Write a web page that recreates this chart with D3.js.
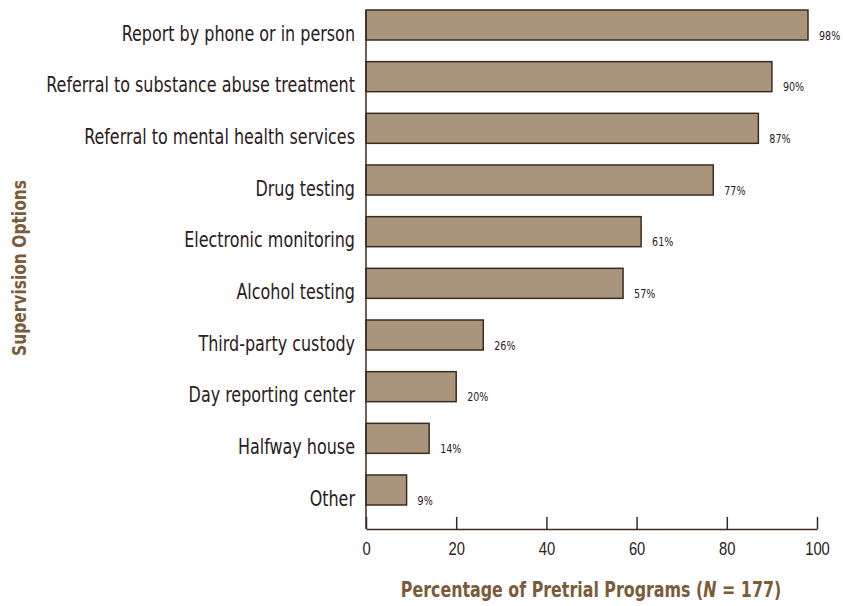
<!DOCTYPE html>
<html><head><meta charset="utf-8">
<script src="https://cdn.jsdelivr.net/npm/d3@7"></script>
<style>
body{margin:0;background:#fff;}
svg{display:block;font-family:"DejaVu Sans Condensed","Liberation Sans Narrow",sans-serif;}
</style></head><body>
<div id="chart"></div>
<script>
const categories = ["Report by phone or in person","Referral to substance abuse treatment","Referral to mental health services","Drug testing","Electronic monitoring","Alcohol testing","Third-party custody","Day reporting center","Halfway house","Other"];
const values = [98,90,87,77,61,57,26,20,14,9];
const xTicks = [0,20,40,60,80,100];

const W=843,H=606;
const svg=d3.select("#chart").append("svg").attr("width",W).attr("height",H);
const x=d3.scaleLinear().domain([0,100]).range([366,817]);
const y=d3.scaleBand().domain(categories).range([10,505]).paddingInner(0.419).paddingOuter(0);
const base=529;
const data=categories.map((c,i)=>({c,v:values[i]}));
const ink="#2a2021", frame="#3d2b22", brown="#7a5c3a";

// condensed text helper: position then squeeze horizontally
function sq(sel,px,py,sx){ return sel.attr("transform",`translate(${px},${py}) scale(${sx},1)`); }

svg.append("g").selectAll("rect").data(data).join("rect")
  .attr("x",x(0)).attr("y",d=>y(d.c)).attr("width",d=>x(d.v)-x(0)).attr("height",y.bandwidth())
  .attr("fill","#a8957c").attr("stroke",frame).attr("stroke-width",1.5);

svg.append("g").selectAll("text").data(data).join("text")
  .each(function(d){ sq(d3.select(this), x(d.v)+11, y(d.c)+y.bandwidth()-0.5, 0.85); })
  .attr("font-size",12.5).attr("fill",ink).text(d=>d.v+"%");

svg.append("g").selectAll("text").data(data).join("text")
  .each(function(d){ sq(d3.select(this), 355, y(d.c)+y.bandwidth()+0.5, 0.845); })
  .attr("text-anchor","end").attr("font-size",21).attr("fill",ink).text(d=>d.c);

// axes
svg.append("line").attr("x1",x(0)).attr("x2",x(0)).attr("y1",y(categories[0])).attr("y2",base).attr("stroke",frame).attr("stroke-width",1.5);
const xAxis=d3.axisBottom(x).tickValues(xTicks).tickSize(0).tickPadding(0);
const g=svg.append("g").attr("transform",`translate(0,${base})`).call(xAxis);
g.select(".domain").attr("stroke",frame).attr("stroke-width",1.5);
g.selectAll(".tick text").attr("dy",null).attr("y",null)
  .attr("transform","translate(0,26) scale(0.82,1)")
  .attr("font-size",18).attr("fill",ink).attr("font-family","inherit");
g.selectAll(".tick").append("line").attr("y1",0).attr("y2",-12).attr("stroke",frame).attr("stroke-width",1.5);

sq(svg.append("text"),591,597,0.84).attr("text-anchor","middle")
  .attr("font-size",21).attr("font-weight","bold").attr("fill",brown)
  .html('Percentage of Pretrial Programs (<tspan font-style="italic">N</tspan> = 177)');

svg.append("text").attr("transform","translate(26,268) rotate(-90) scale(0.86,1)").attr("text-anchor","middle")
  .attr("font-size",20).attr("font-weight","bold").attr("fill",brown).text("Supervision Options");
</script></body></html>
